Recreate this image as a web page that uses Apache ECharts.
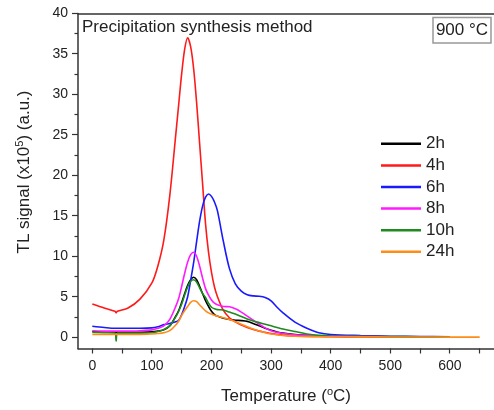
<!DOCTYPE html>
<html>
<head>
<meta charset="utf-8">
<script src="https://cdn.jsdelivr.net/npm/echarts@6/dist/echarts.min.js"></script>
<style>
  html, body { margin: 0; padding: 0; background: #fff; }
  #chart { width: 494px; height: 410px; }
</style>
</head>
<body>
<div id="chart"></div>
<script>
// temperatures (°C) shared by every glow curve
const temps = [0, 20, 38, 40, 42, 60, 80, 100, 110, 120, 130, 140, 145, 150, 155, 160, 165, 170, 175, 180, 185, 190, 195, 200, 205, 210, 220, 230, 240, 250, 260, 270, 280, 290, 300, 310, 320, 340, 360, 380, 400, 450, 500, 550, 600, 650];

// TL signal (x10^5 a.u.)
const tl2h = [0.7, 0.65, 0.6, 0.6, 0.6, 0.6, 0.6, 0.65, 0.75, 0.9, 1.4, 2.6, 3.3, 4.3, 5.4, 6.4, 7.1, 7.4, 7.1, 6.3, 5.4, 4.5, 3.8, 3.2, 2.8, 2.6, 2.35, 2.2, 2.1, 2.05, 1.95, 1.7, 1.4, 1.1, 0.85, 0.65, 0.5, 0.33, 0.22, 0.15, 0.12, 0.08, 0.06, 0.05, null, null];
const tl4h = [4.1, 3.6, 3.2, 3.0, 3.2, 3.6, 4.7, 6.7, 8.8, 12.0, 17.5, 25.0, 28.8, 32.6, 35.6, 37.0, 35.9, 33.2, 29.0, 24.0, 19.0, 14.0, 10.5, 8.0, 6.2, 5.0, 3.3, 2.4, 1.9, 1.5, 1.2, 0.95, 0.75, 0.6, 0.45, 0.35, 0.25, 0.15, 0.1, 0.08, 0.06, 0.05, 0.04, 0.04, 0.03, null];
const tl6h = [1.35, 1.2, 1.1, 1.1, 1.1, 1.1, 1.1, 1.15, 1.3, 1.55, 1.7, 1.9, 2.1, 2.8, 3.8, 5.0, 7.0, 9.2, 11.8, 14.3, 16.2, 17.3, 17.7, 17.4, 16.7, 15.6, 11.8, 8.5, 6.6, 5.7, 5.25, 5.1, 5.05, 4.9, 4.5, 3.7, 3.0, 1.85, 1.1, 0.55, 0.33, 0.2, 0.12, 0.08, 0.05, null];
const tl8h = [0.8, 0.75, 0.75, 0.75, 0.75, 0.75, 0.8, 0.9, 1.1, 1.4, 2.2, 3.8, 4.8, 6.3, 7.9, 9.3, 10.2, 10.5, 10.0, 8.8, 7.3, 6.0, 5.2, 4.6, 4.2, 4.0, 3.8, 3.75, 3.5, 3.1, 2.6, 2.1, 1.6, 1.15, 0.8, 0.6, 0.45, 0.3, 0.2, 0.15, 0.12, 0.08, 0.06, 0.05, 0.04, null];
const tl10h = [0.6, 0.55, 0.5, -0.5, 0.5, 0.5, 0.5, 0.55, 0.7, 0.95, 1.4, 2.5, 3.2, 4.1, 5.2, 6.2, 6.9, 7.1, 6.8, 6.1, 5.4, 4.9, 4.2, 3.7, 3.5, 3.4, 3.35, 3.1, 2.85, 2.55, 2.25, 2.0, 1.8, 1.6, 1.4, 1.2, 1.0, 0.7, 0.4, 0.22, 0.15, 0.1, 0.08, 0.06, 0.05, null];
const tl24h = [0.35, 0.35, 0.35, 0.35, 0.35, 0.35, 0.35, 0.4, 0.45, 0.55, 0.8, 1.5, 2.0, 2.7, 3.3, 3.8, 4.3, 4.5, 4.4, 4.0, 3.6, 3.25, 3.0, 2.85, 2.7, 2.6, 2.4, 2.2, 1.9, 1.6, 1.3, 1.0, 0.75, 0.55, 0.4, 0.3, 0.22, 0.12, 0.08, 0.06, 0.05, 0.04, 0.03, 0.02, 0.01, 0.0];

const seriesNames = ["2h", "4h", "6h", "8h", "10h", "24h"];
const seriesValues = [tl2h, tl4h, tl6h, tl8h, tl10h, tl24h];
const seriesColors = ["#000000", "#ff1a1a", "#1a1aff", "#ff1aff", "#1f8a1f", "#ff8c1a"];

// axis ticks
const xLabelTicks = [0, 100, 200, 300, 400, 500, 600];
const xMinorTicks = [50, 150, 250, 350, 450, 550, 650];
const yLabelTicks = [0, 5, 10, 15, 20, 25, 30, 35, 40];
const yMinorTicks = [2.5, 7.5, 12.5, 17.5, 22.5, 27.5, 32.5, 37.5];

const X_MIN = -24, X_MAX = 674;
const Y_MIN = -1.4, Y_MAX = 40;

const FONT = "Arial, 'Liberation Sans', sans-serif";
const AXIS_COLOR = "#333";

const chart = echarts.init(document.getElementById("chart"));

const textGraphics = [
  {
    id: "title",
    type: "text",
    left: 82,
    top: 19,
    style: {
      text: "Precipitation synthesis method",
      fontFamily: FONT,
      fontSize: 17,
      fill: "#222",
    },
  },
  {
    id: "tempBox",
    type: "rect",
    shape: { x: 433, y: 17.5, width: 58, height: 25.5 },
    style: { fill: "#fff", stroke: "#999", lineWidth: 1.5 },
  },
  {
    id: "tempText",
    type: "text",
    x: 462,
    y: 30.5,
    style: {
      text: "900 \u00b0C",
      fontFamily: FONT,
      fontSize: 17,
      fill: "#222",
      align: "center",
      verticalAlign: "middle",
    },
  },
];

const option = {
  backgroundColor: "#fff",
  animation: false,
  textStyle: { fontFamily: FONT },

  grid: {
    left: 78,
    right: -2,
    top: 13.5,
    bottom: 61,
  },

  legend: {
    orient: "vertical",
    left: 381,
    top: 134,
    padding: 0,
    icon: "rect",
    itemWidth: 40,
    itemHeight: 2.5,
    itemGap: 2,
    data: seriesNames,
    textStyle: {
      fontFamily: FONT,
      fontSize: 17,
      color: "#222",
      lineHeight: 19.6,
    },
  },

  xAxis: [
    {
      type: "value",
      min: X_MIN,
      max: X_MAX,
      name: "Temperature ({sup|o}C)",
      nameLocation: "middle",
      nameGap: 38,
      nameTextStyle: {
        fontFamily: FONT,
        fontSize: 17,
        color: "#222",
        rich: {
          sup: { fontSize: 11, verticalAlign: "top", padding: [0, 0, 9, 0] },
        },
      },
      axisLine: { show: true, onZero: false, lineStyle: { color: AXIS_COLOR, width: 1.5 } },
      axisTick: {
        show: true,
        inside: false,
        length: 5,
        customValues: xMinorTicks,
        lineStyle: { color: AXIS_COLOR, width: 1.2 },
      },
      axisLabel: {
        customValues: xLabelTicks,
        margin: 11,
        fontFamily: FONT,
        fontSize: 14,
        color: "#222",
      },
      splitLine: { show: false },
    },
    {
      type: "value",
      position: "top",
      min: X_MIN,
      max: X_MAX,
      axisLine: { show: true, onZero: false, lineStyle: { color: AXIS_COLOR, width: 1.5 } },
      axisTick: { show: false },
      axisLabel: { show: false },
      splitLine: { show: false },
    },
  ],

  yAxis: [
    {
      type: "value",
      min: Y_MIN,
      max: Y_MAX,
      name: "TL signal (x10{sup|5}) (a.u.)",
      nameLocation: "middle",
      nameGap: 44,
      nameTextStyle: {
        fontFamily: FONT,
        fontSize: 17,
        color: "#222",
        padding: [0, 0, 0, 18],
        rich: {
          sup: { fontSize: 11, verticalAlign: "top", padding: [0, 0, 9, 0] },
        },
      },
      axisLine: { show: true, onZero: false, lineStyle: { color: AXIS_COLOR, width: 1.5 } },
      axisTick: {
        show: true,
        inside: false,
        length: 3.5,
        customValues: yMinorTicks,
        lineStyle: { color: AXIS_COLOR, width: 1.2 },
      },
      axisLabel: {
        customValues: yLabelTicks,
        margin: 10,
        fontFamily: FONT,
        fontSize: 14,
        color: "#222",
      },
      splitLine: { show: false },
    },
  ],

  series: seriesNames.map((name, i) => ({
    name,
    type: "line",
    data: temps.map((t, j) => [t, seriesValues[i][j]]),
    smooth: 0.3,
    showSymbol: false,
    connectNulls: false,
    lineStyle: { color: seriesColors[i], width: 1.6 },
    itemStyle: { color: seriesColors[i] },
  })),

  graphic: textGraphics,
};

chart.setOption(option);

// ticks at the label positions get dropped by the axis,
// so draw them from the axis scale after layout
const crisp = (v) => Math.round(v - 0.5) + 0.5;
const tickStyle = { stroke: AXIS_COLOR, lineWidth: 1.2 };
const majorTicks = [];
xLabelTicks.forEach((v, i) => {
  const [px, py] = chart.convertToPixel({ xAxisIndex: 0, yAxisIndex: 0 }, [v, Y_MIN]);
  majorTicks.push({
    id: "xt" + i,
    type: "line",
    z: 100,
    shape: { x1: crisp(px), y1: py, x2: crisp(px), y2: py + 5 },
    style: tickStyle,
  });
});
yLabelTicks.forEach((v, i) => {
  const [px, py] = chart.convertToPixel({ xAxisIndex: 0, yAxisIndex: 0 }, [X_MIN, v]);
  majorTicks.push({
    id: "yt" + i,
    type: "line",
    z: 100,
    shape: { x1: px - 6, y1: crisp(py), x2: px, y2: crisp(py) },
    style: tickStyle,
  });
});
chart.setOption({ graphic: textGraphics.concat(majorTicks) });
</script>
</body>
</html>
